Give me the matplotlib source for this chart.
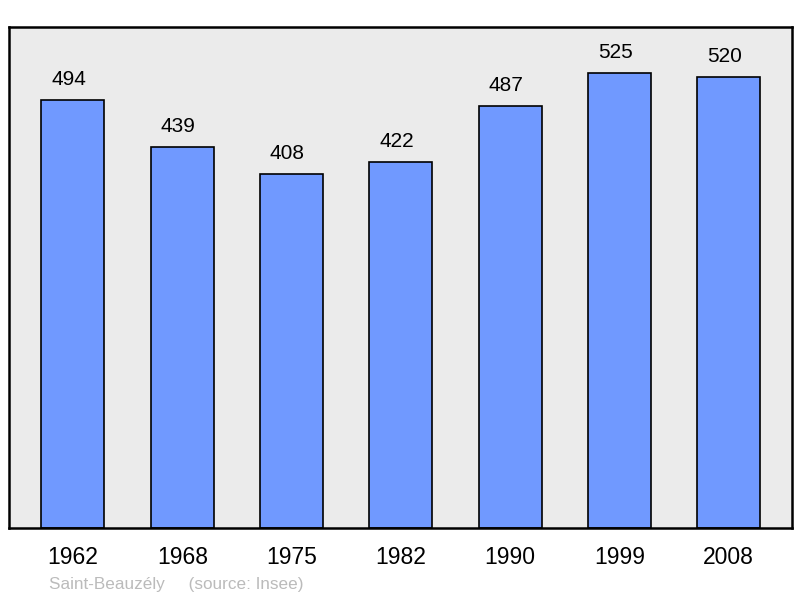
import matplotlib.pyplot as plt

plt.rcParams['font.family'] = ['Liberation Sans', 'DejaVu Sans']

years = ["1962", "1968", "1975", "1982", "1990", "1999", "2008"]
population = [494, 439, 408, 422, 487, 525, 520]

fig = plt.figure(figsize=(8, 5.98), dpi=100)
ax = fig.add_axes([0.01125, 0.117, 0.979, 0.838])
ax.set_facecolor("#ebebeb")

x = range(len(years))
bars = ax.bar(x, population, width=0.576, color="#7099ff",
              edgecolor="black", linewidth=1.2, zorder=2)
for xi, v in zip(x, population):
    ax.annotate(str(v), (xi, v), xytext=(-3, 8), textcoords="offset points",
                ha="center", va="bottom", fontsize=15)

ax.set_xlim(-0.585, 6.58)
ax.set_ylim(0, 578)
ax.set_yticks([])
ax.set_xticks(list(x))
ax.set_xticklabels(years, fontsize=16.5)
ax.tick_params(axis="x", length=0, pad=13)
for s in ax.spines.values():
    s.set_linewidth(1.8)

fig.text(0.061, 0.015, "Saint-Beauzély     (source: Insee)", color="#bbbbbb",
         fontsize=12.3)

fig.savefig("out.png")
